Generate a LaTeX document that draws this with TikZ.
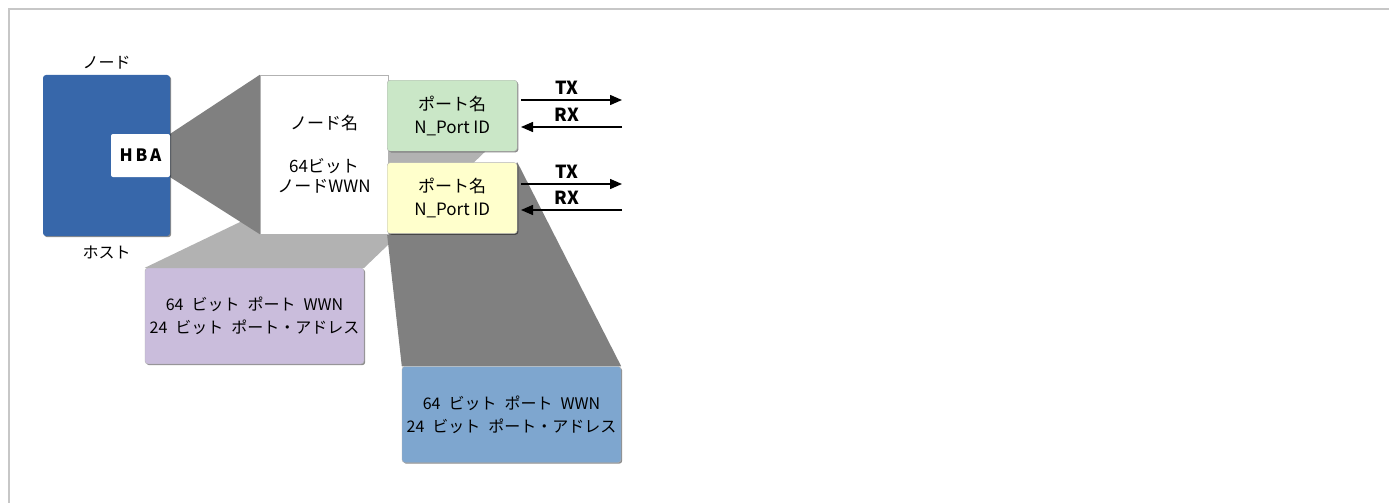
\documentclass[tikz,border=0pt]{standalone}
\usepackage{fontspec}
\usepackage{xcolor}
\usepackage{tikz}
\usetikzlibrary{arrows.meta, positioning, calc, shadows, backgrounds}
\newfontfamily\jpfont{Noto Sans CJK JP}
\definecolor{hostblue}{RGB}{55,103,170}
\definecolor{portgreen}{RGB}{202,231,199}
\definecolor{portyellow}{RGB}{255,255,204}
\definecolor{infopurple}{RGB}{202,189,220}
\definecolor{infoblue}{RGB}{126,166,207}
\newcommand{\gap}{\hspace{0.5em}}

\begin{document}
\begin{tikzpicture}[
    x=1pt, y=-1pt,
    shade/.style={drop shadow={shadow xshift=1.2pt, shadow yshift=-1.2pt, opacity=0.45, fill=black}},
    hostbox/.style={fill=hostblue, rounded corners=3pt, minimum width=127pt, minimum height=161pt, shade},
    hbabox/.style={fill=white, rounded corners=2pt, minimum width=59pt, minimum height=43pt, inner sep=0pt, font=\jpfont\bfseries\fontsize{17}{20}\selectfont},
    lbl/.style={inner sep=0pt, font=\jpfont\fontsize{16}{19}\selectfont},
    namebox/.style={draw=black!30, fill=white, minimum width=128pt, minimum height=159pt, inner sep=0pt, align=center, font=\jpfont\fontsize{17}{20}\selectfont, shade},
    portbox/.style={draw=black!30, rounded corners=3pt, minimum width=130pt, minimum height=71pt, inner sep=0pt, align=center, font=\jpfont\fontsize{17}{23}\selectfont, shade},
    infobox/.style={draw=black!30, rounded corners=3pt, minimum width=219pt, minimum height=96pt, inner sep=0pt, align=center, font=\jpfont\fontsize{16}{23}\selectfont, shade},
    sig/.style={-{Triangle[length=12pt, width=10pt]}, line width=1.4pt},
    siglbl/.style={inner sep=0pt, font=\jpfont\bfseries\fontsize{18}{20}\selectfont},
    frame/.style={draw=black!22, line width=1.5pt}
]
    \useasboundingbox (0,0) rectangle (1389,503);
    \draw[frame] (1389,9) -- (9,9) -- (9,503);

    % host and HBA
    \node[hostbox] (host) at (106.5,155.5) {};
    \node[hbabox, anchor=east] (hba) at (host.east) {H\,B\,A};
    \node[lbl, above=5pt of host] (nodelbl) {ノード};
    \node[lbl, below=10pt of host] (hostlbl) {ホスト};

    % node name
    \node[namebox] (nodename) at (324,154.5) {ノード名\\[23pt]64ビット\\ノードWWN};

    % ports
    \node[portbox, fill=portgreen, anchor=north west] (port1) at (387,80) {ポート名\\N\_Port ID};
    \node[portbox, fill=portyellow, below=11pt of port1] (port2) {ポート名\\N\_Port ID};

    % port addresses
    \node[infobox, fill=infopurple] (addr1) at (254.5,316) {64\gap ビット\gap ポート\gap WWN\\24\gap ビット\gap ポート・アドレス};
    \node[infobox, fill=infoblue] (addr2) at (511.5,414.5) {64\gap ビット\gap ポート\gap WWN\\24\gap ビット\gap ポート・アドレス};

    % projections
    \begin{scope}[on background layer]
        \fill[black!30] (port1.south west) -- ([xshift=-32pt]port1.south east) -- (addr1.north east) -- (addr1.north west) -- cycle;
        \fill[black!50] (hba.north east) -- (nodename.north west) -- (nodename.south west) -- (hba.south east) -- cycle;
        \fill[black!50] (port2.south west) -- (port2.north east) -- (addr2.north east) -- (addr2.north west) -- cycle;
    \end{scope}

    % TX / RX
    \coordinate (tx1a) at (521,100);
    \coordinate (tx1b) at (622,100);
    \coordinate (rx1a) at (622,127);
    \coordinate (rx1b) at (521,127);
    \coordinate (tx2a) at (521,184);
    \coordinate (tx2b) at (622,184);
    \coordinate (rx2a) at (622,210);
    \coordinate (rx2b) at (521,210);
    \draw[sig] (tx1a) -- (tx1b);
    \draw[sig] (rx1a) -- (rx1b);
    \draw[sig] (tx2a) -- (tx2b);
    \draw[sig] (rx2a) -- (rx2b);
    \node[siglbl] (tx1) at (567,88) {TX};
    \node[siglbl] (rx1) at (567,115) {RX};
    \node[siglbl] (tx2) at (567,172) {TX};
    \node[siglbl] (rx2) at (567,198) {RX};
\end{tikzpicture}
\end{document}
